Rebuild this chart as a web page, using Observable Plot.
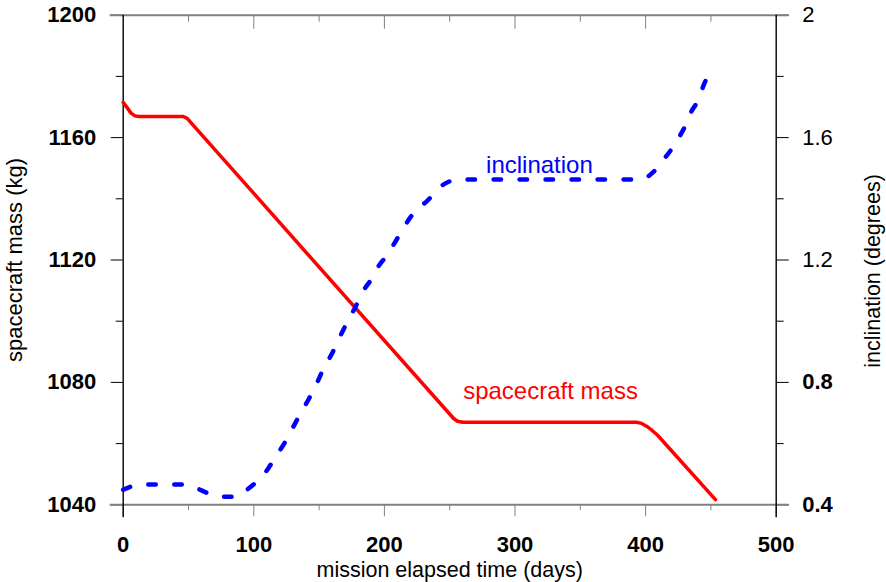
<!DOCTYPE html>
<html><head><meta charset="utf-8">
<script src="https://cdn.jsdelivr.net/npm/d3@7"></script>
<script src="https://cdn.jsdelivr.net/npm/@observablehq/plot@0.6"></script>
<style>body{margin:0;background:#fff}</style>
</head><body><div id="chart"></div>
<script>
// spacecraft mass (kg) vs mission elapsed time (days)
const massDays = [0, 3, 6, 9, 12, 46, 49, 52, 253, 256, 260, 393, 397, 401, 405, 409, 453.5];
const massKg   = [1171.5, 1169.8, 1168, 1167.1, 1166.9, 1166.9, 1166.3, 1164.8, 1068.2, 1067.3, 1067, 1067, 1066.6, 1065.6, 1064.3, 1062.8, 1041.7];
// inclination (degrees) vs mission elapsed time (days)
const incDays = [0, 5, 10, 20, 45, 52, 60, 68, 75, 82, 88, 95, 100, 106, 112, 118, 124, 130, 136, 142, 148, 154, 160, 166, 172, 178, 184, 190, 196, 202, 208, 214, 220, 226, 232, 238, 244, 250, 256, 265, 300, 350, 395, 400, 405, 410, 415, 420, 425, 430, 435, 440, 445, 449];
const incDeg  = [0.449, 0.458, 0.465, 0.466, 0.466, 0.462, 0.447, 0.432, 0.426, 0.426, 0.43, 0.45, 0.467, 0.49, 0.525, 0.565, 0.605, 0.653, 0.7, 0.745, 0.795, 0.85, 0.895, 0.95, 1.0, 1.048, 1.1, 1.137, 1.183, 1.215, 1.257, 1.3, 1.34, 1.37, 1.39, 1.417, 1.443, 1.457, 1.463, 1.463, 1.463, 1.463, 1.463, 1.468, 1.484, 1.506, 1.535, 1.563, 1.597, 1.635, 1.685, 1.72, 1.777, 1.81];

const dayTicks = [0, 100, 200, 300, 400, 500];
const dayMinor = [50, 150, 250, 350, 450];
const massTicks = [1040, 1080, 1120, 1160, 1200];
const massMinor = [1060, 1100, 1140, 1180];
const incTicksLight = [1.2, 1.6, 2];
const incTicksBold = [0.4, 0.8];
const incMinor = [0.6, 1.0, 1.4, 1.8];

const annoText = ["inclination", "spacecraft mass"];
const annoDay = [318.7, 327.2];
const annoVal = [1151, 1077];
const annoColor = ["#0000ff", "#ff0000"];

const toKg = d => 1040 + (d - 0.4) * 100;
const fromKg = k => +(((k - 1040) / 100) + 0.4).toFixed(1);

const massData = massDays.map((d, i) => ({day: d, kg: massKg[i]}));
const incData = incDays.map((d, i) => ({day: d, deg: incDeg[i]}));
const annos = annoText.map((t, i) => ({text: t, day: annoDay[i], kg: annoVal[i], color: annoColor[i]}));

const FONT = "Liberation Sans, Arial, Helvetica, sans-serif";
const GRAY = "#808080";

const chart = Plot.plot({
  width: 886,
  height: 582,
  marginLeft: 122.7,
  marginRight: 110.3,
  marginTop: 14.7,
  marginBottom: 77.7,
  style: {fontFamily: FONT, background: "#fff", color: "#000", overflow: "visible"},
  x: {domain: [0, 500]},
  y: {domain: [1040, 1200]},
  marks: [
    // bottom axis
    Plot.axisX({ticks: dayTicks, anchor: "bottom", tickSize: 12, tickPadding: 20, stroke: GRAY, fill: "#000", fontSize: 22, fontWeight: "bold", label: null, tickFormat: d => String(d)}),
    Plot.axisX({ticks: dayMinor, anchor: "bottom", tickSize: 6, stroke: GRAY, label: null, tickFormat: () => ""}),
    // top inward ticks
    Plot.axisX({ticks: dayTicks.slice(1, -1), anchor: "top", tickSize: 13, dy: 13, stroke: GRAY, label: null, tickFormat: () => ""}),
    Plot.axisX({ticks: dayMinor, anchor: "top", tickSize: 6, dy: 6, stroke: GRAY, label: null, tickFormat: () => ""}),
    // left axis
    Plot.axisY({ticks: massTicks, anchor: "left", tickSize: 12, tickPadding: 15, stroke: "#000", fill: "#000", fontSize: 22, fontWeight: "bold", label: null, tickFormat: d => String(d)}),
    Plot.axisY({ticks: massMinor, anchor: "left", tickSize: 7, stroke: "#000", label: null, tickFormat: () => ""}),
    // right axis
    Plot.axisY({ticks: incTicksLight.map(toKg), anchor: "right", tickSize: 12, tickPadding: 14, stroke: "#000", fill: "#000", fontSize: 22, label: null, tickFormat: k => String(fromKg(k))}),
    Plot.axisY({ticks: incTicksBold.map(toKg), anchor: "right", tickSize: 12, tickPadding: 14, stroke: "#000", fill: "#000", fontSize: 22, fontWeight: "bold", label: null, tickFormat: k => String(fromKg(k))}),
    Plot.axisY({ticks: incMinor.map(toKg), anchor: "right", tickSize: 7, stroke: "#000", label: null, tickFormat: () => ""}),
    // frame
    Plot.ruleY([1040, 1200], {stroke: GRAY, strokeWidth: 2, insetLeft: -13, insetRight: -13}),
    Plot.ruleX([0, 500], {stroke: "#000", strokeWidth: 1.4, insetBottom: -13}),
    // data
    Plot.line(massData, {x: "day", y: "kg", stroke: "#ff0000", strokeWidth: 3.5, curve: "linear", strokeLinejoin: "round", strokeLinecap: "round"}),
    Plot.line(incData, {x: "day", y: d => toKg(d.deg), stroke: "#0000ff", strokeWidth: 4.5, strokeDasharray: "7.5,18.5", strokeLinecap: "round", curve: "monotone-x"}),
    // annotations
    Plot.text(annos, {x: "day", y: "kg", text: "text", fill: "color", fontSize: 24, textAnchor: "middle", lineAnchor: "middle"}),
    // axis titles
    Plot.text(["spacecraft mass (kg)"], {text: d => d, frameAnchor: "left", rotate: -90, dx: -108.7, textAnchor: "middle", lineAnchor: "middle", fontSize: 22, fill: "#000"}),
    Plot.text(["inclination (degrees)"], {text: d => d, frameAnchor: "right", rotate: -90, dx: 97, dy: 11, textAnchor: "middle", lineAnchor: "middle", fontSize: 21.5, fill: "#000"}),
    Plot.text(["mission elapsed time (days)"], {text: d => d, frameAnchor: "bottom", dy: 65.2, textAnchor: "middle", lineAnchor: "middle", fontSize: 21.5, fill: "#000"})
  ]
});
document.getElementById("chart").appendChild(chart);
</script>
</body></html>
